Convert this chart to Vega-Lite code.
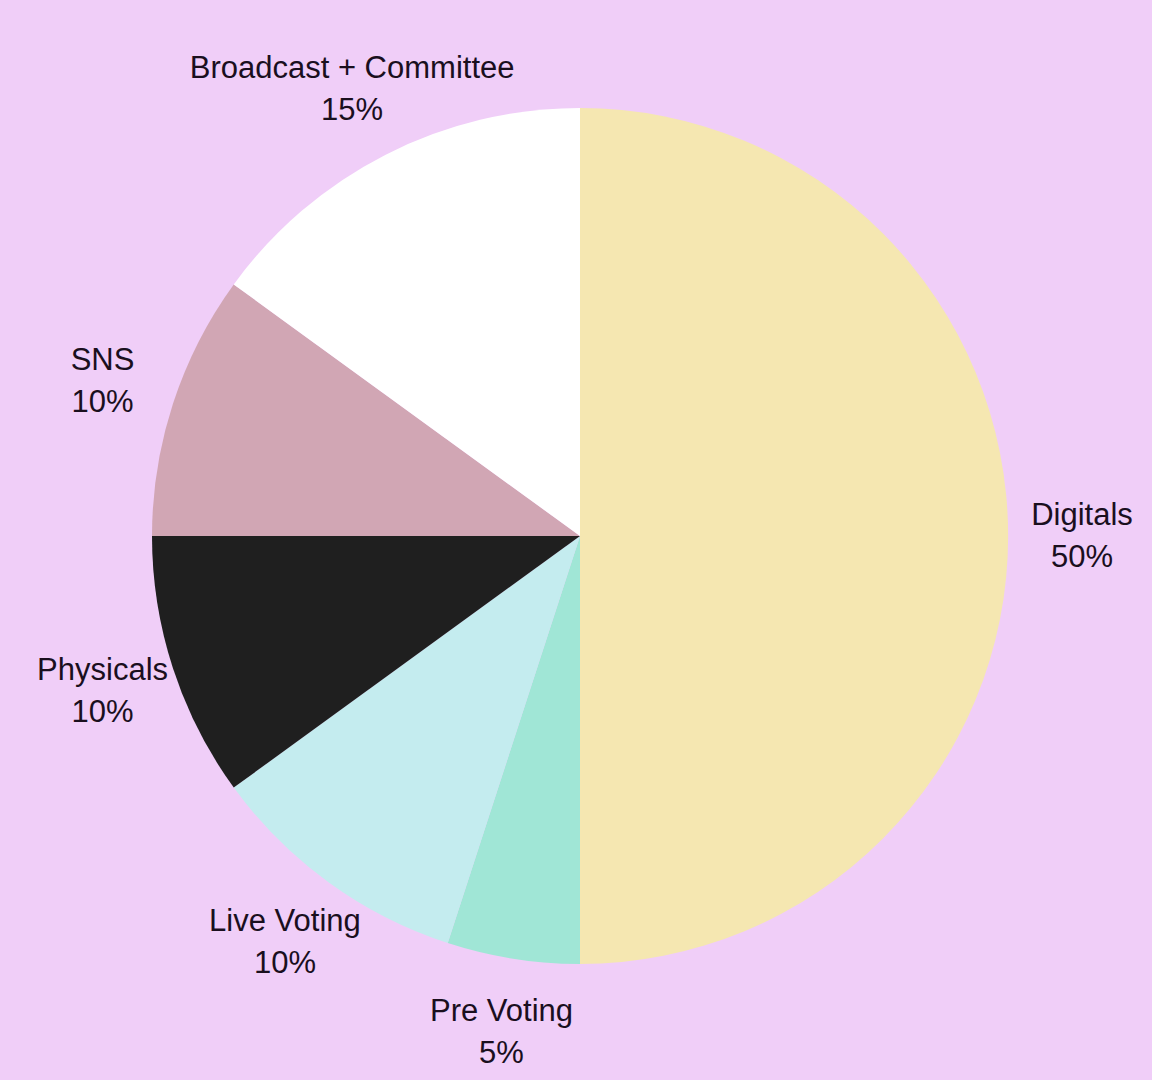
{
  "$schema": "https://vega.github.io/schema/vega-lite/v6.json",
  "width": 1144,
  "height": 1072,
  "padding": {"left": 8, "top": 0, "right": 0, "bottom": 8},
  "autosize": {"type": "none"},
  "background": "#F0CEF8",
  "config": {"view": {"stroke": null}},
  "data": {
    "values": [
      {"idx": 1, "name": "Digitals", "pct": "50%", "value": 50},
      {"idx": 2, "name": "Pre Voting", "pct": "5%", "value": 5},
      {"idx": 3, "name": "Live Voting", "pct": "10%", "value": 10},
      {"idx": 4, "name": "Physicals", "pct": "10%", "value": 10},
      {"idx": 5, "name": "SNS", "pct": "10%", "value": 10},
      {"idx": 6, "name": "Broadcast + Committee", "pct": "15%", "value": 15}
    ]
  },
  "encoding": {
    "theta": {"field": "value", "type": "quantitative", "stack": true},
    "order": {"field": "idx", "type": "quantitative", "sort": "ascending"}
  },
  "layer": [
    {
      "mark": {"type": "arc", "outerRadius": 428},
      "encoding": {
        "color": {
          "field": "name",
          "type": "nominal",
          "legend": null,
          "scale": {
            "domain": ["Digitals", "Pre Voting", "Live Voting", "Physicals", "SNS", "Broadcast + Committee"],
            "range": ["#F5E7B1", "#A0E6D6", "#C4ECEF", "#1F1F1F", "#D1A6B4", "#FFFFFF"]
          }
        }
      }
    },
    {
      "mark": {"type": "text", "radius": 502, "dy": -20, "font": "Liberation Sans", "fontSize": 31, "color": "#1A0F1E", "align": "center", "baseline": "middle"},
      "encoding": {"text": {"field": "name", "type": "nominal"}}
    },
    {
      "mark": {"type": "text", "radius": 502, "dy": 22, "font": "Liberation Sans", "fontSize": 31, "color": "#1A0F1E", "align": "center", "baseline": "middle"},
      "encoding": {"text": {"field": "pct", "type": "nominal"}}
    }
  ]
}
